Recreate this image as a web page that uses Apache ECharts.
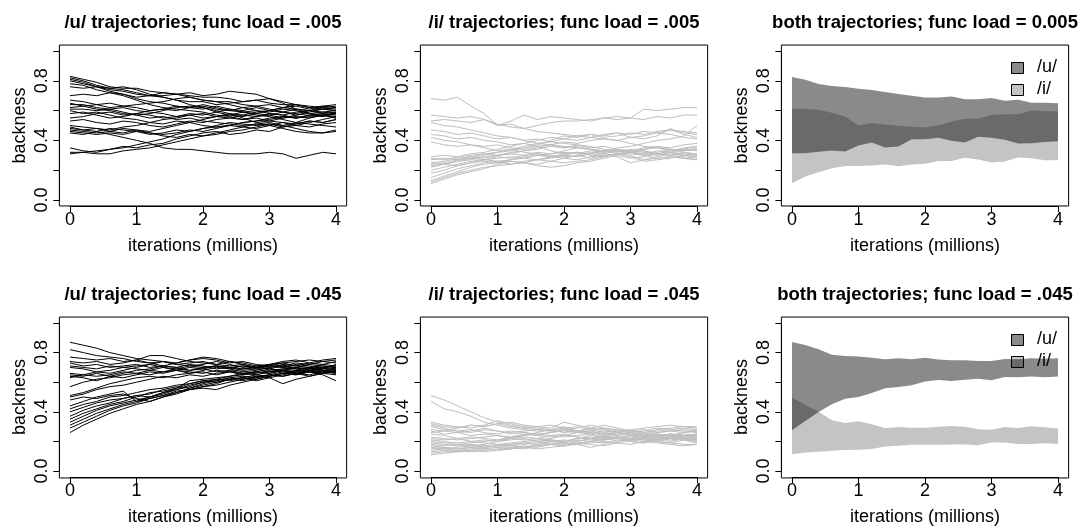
<!DOCTYPE html>
<html>
<head>
<meta charset="utf-8">
<title>backness trajectories</title>
<script src="https://cdn.jsdelivr.net/npm/echarts@6/dist/echarts.min.js"></script>
<style>
  html, body { margin: 0; padding: 0; background: #fff; }
  #chart { width: 1078px; height: 527px; }
</style>
</head>
<body>
<div id="chart"></div>
<script>
// iteration checkpoints (millions)
const iters = [0, 0.2, 0.4, 0.6, 0.8, 1.0, 1.2, 1.4, 1.6, 1.8, 2.0, 2.2, 2.4, 2.6, 2.8, 3.0, 3.2, 3.4, 3.6, 3.8, 4.0];
const xTicks = [0, 1, 2, 3, 4];
const yLabelled = [0, 0.4, 0.8];

const panelTitles = [
  '/u/ trajectories; func load = .005',
  '/i/ trajectories; func load = .005',
  'both trajectories; func load = 0.005',
  '/u/ trajectories; func load = .045',
  '/i/ trajectories; func load = .045',
  'both trajectories; func load = .045'
];
const legendLabels = ['/u/', '/i/'];

// /u/ runs, functional load .005
const u005 = [
  [0.83,0.81,0.79,0.76,0.75,0.75,0.73,0.72,0.71,0.70,0.69,0.69,0.68,0.66,0.67,0.65,0.64,0.64,0.62,0.63,0.62],
  [0.82,0.80,0.77,0.75,0.74,0.72,0.70,0.70,0.71,0.69,0.67,0.66,0.66,0.64,0.63,0.64,0.62,0.61,0.60,0.61,0.60],
  [0.81,0.79,0.76,0.73,0.71,0.68,0.66,0.65,0.63,0.62,0.63,0.61,0.60,0.62,0.60,0.59,0.61,0.60,0.58,0.59,0.58],
  [0.80,0.78,0.76,0.75,0.76,0.74,0.71,0.69,0.67,0.64,0.62,0.59,0.57,0.56,0.58,0.57,0.55,0.56,0.55,0.57,0.56],
  [0.78,0.77,0.74,0.72,0.70,0.67,0.64,0.62,0.61,0.60,0.59,0.57,0.56,0.54,0.55,0.53,0.52,0.50,0.49,0.51,0.52],
  [0.76,0.75,0.76,0.74,0.73,0.71,0.70,0.72,0.71,0.72,0.70,0.71,0.73,0.72,0.71,0.68,0.65,0.61,0.58,0.57,0.55],
  [0.70,0.71,0.70,0.72,0.71,0.69,0.70,0.69,0.67,0.66,0.66,0.64,0.65,0.66,0.67,0.68,0.66,0.64,0.63,0.62,0.63],
  [0.67,0.66,0.64,0.65,0.63,0.62,0.60,0.61,0.63,0.62,0.64,0.62,0.60,0.59,0.60,0.58,0.57,0.59,0.60,0.58,0.57],
  [0.65,0.63,0.64,0.62,0.63,0.64,0.65,0.66,0.68,0.69,0.67,0.66,0.64,0.62,0.63,0.61,0.59,0.57,0.58,0.56,0.59],
  [0.64,0.64,0.62,0.61,0.62,0.60,0.59,0.58,0.56,0.57,0.55,0.56,0.58,0.57,0.59,0.60,0.62,0.63,0.61,0.63,0.64],
  [0.62,0.63,0.61,0.60,0.58,0.57,0.55,0.56,0.54,0.55,0.53,0.52,0.51,0.50,0.51,0.52,0.50,0.48,0.46,0.45,0.46],
  [0.61,0.61,0.60,0.61,0.59,0.57,0.58,0.60,0.62,0.63,0.62,0.60,0.58,0.55,0.52,0.53,0.55,0.57,0.59,0.61,0.62],
  [0.60,0.58,0.59,0.57,0.55,0.54,0.52,0.51,0.53,0.52,0.50,0.49,0.50,0.52,0.53,0.55,0.56,0.55,0.57,0.56,0.58],
  [0.58,0.59,0.57,0.55,0.56,0.58,0.57,0.55,0.56,0.58,0.57,0.59,0.61,0.60,0.62,0.60,0.62,0.64,0.62,0.61,0.60],
  [0.55,0.56,0.58,0.59,0.57,0.58,0.60,0.61,0.60,0.62,0.61,0.63,0.61,0.59,0.57,0.56,0.54,0.52,0.51,0.50,0.49],
  [0.53,0.54,0.52,0.51,0.53,0.52,0.50,0.49,0.51,0.53,0.52,0.54,0.55,0.57,0.56,0.58,0.57,0.55,0.56,0.57,0.55],
  [0.50,0.49,0.48,0.47,0.49,0.50,0.52,0.54,0.55,0.57,0.58,0.56,0.57,0.59,0.58,0.60,0.59,0.61,0.60,0.62,0.61],
  [0.49,0.47,0.48,0.46,0.45,0.47,0.46,0.48,0.50,0.52,0.54,0.56,0.55,0.54,0.56,0.57,0.59,0.58,0.60,0.59,0.60],
  [0.47,0.46,0.45,0.46,0.48,0.47,0.45,0.44,0.45,0.47,0.46,0.48,0.50,0.49,0.51,0.50,0.48,0.46,0.45,0.45,0.47],
  [0.46,0.45,0.44,0.45,0.44,0.46,0.45,0.43,0.42,0.44,0.43,0.45,0.47,0.49,0.48,0.50,0.52,0.51,0.53,0.52,0.54],
  [0.45,0.44,0.46,0.48,0.47,0.46,0.44,0.45,0.47,0.46,0.48,0.50,0.52,0.51,0.50,0.51,0.49,0.50,0.52,0.54,0.56],
  [0.35,0.33,0.32,0.34,0.36,0.35,0.37,0.38,0.41,0.43,0.45,0.46,0.44,0.45,0.47,0.46,0.49,0.51,0.53,0.52,0.54],
  [0.32,0.32,0.31,0.31,0.33,0.34,0.35,0.37,0.39,0.41,0.43,0.44,0.46,0.47,0.49,0.51,0.50,0.52,0.55,0.57,0.58],
  [0.31,0.32,0.33,0.34,0.35,0.37,0.39,0.41,0.44,0.46,0.48,0.49,0.50,0.52,0.53,0.54,0.56,0.55,0.57,0.58,0.59],
  [0.48,0.47,0.46,0.44,0.42,0.40,0.38,0.35,0.34,0.34,0.33,0.32,0.31,0.31,0.31,0.32,0.31,0.28,0.30,0.32,0.31]
];

// /i/ runs, functional load .005
const i005 = [
  [0.68,0.67,0.69,0.63,0.58,0.50,0.51,0.48,0.46,0.45,0.44,0.43,0.42,0.44,0.45,0.44,0.46,0.45,0.47,0.46,0.45],
  [0.57,0.56,0.55,0.56,0.54,0.50,0.53,0.57,0.54,0.56,0.55,0.54,0.53,0.55,0.56,0.55,0.61,0.60,0.61,0.62,0.62],
  [0.53,0.54,0.53,0.52,0.54,0.51,0.49,0.48,0.50,0.52,0.53,0.53,0.54,0.55,0.54,0.55,0.54,0.56,0.55,0.57,0.57],
  [0.52,0.50,0.49,0.47,0.45,0.43,0.42,0.40,0.38,0.37,0.36,0.35,0.34,0.33,0.34,0.32,0.33,0.31,0.32,0.30,0.31],
  [0.47,0.46,0.44,0.45,0.43,0.41,0.42,0.40,0.41,0.39,0.38,0.37,0.35,0.36,0.34,0.33,0.34,0.35,0.33,0.34,0.33],
  [0.44,0.43,0.41,0.42,0.40,0.39,0.37,0.38,0.36,0.37,0.35,0.36,0.34,0.33,0.35,0.36,0.38,0.40,0.41,0.43,0.50],
  [0.42,0.40,0.39,0.37,0.36,0.37,0.35,0.34,0.36,0.33,0.31,0.32,0.30,0.29,0.31,0.30,0.27,0.28,0.29,0.28,0.27],
  [0.39,0.37,0.36,0.37,0.35,0.33,0.34,0.32,0.31,0.30,0.29,0.30,0.28,0.30,0.31,0.32,0.31,0.30,0.32,0.31,0.30],
  [0.29,0.30,0.29,0.31,0.32,0.34,0.36,0.38,0.40,0.42,0.41,0.43,0.44,0.42,0.43,0.45,0.44,0.46,0.47,0.45,0.44],
  [0.28,0.27,0.29,0.30,0.31,0.30,0.32,0.33,0.35,0.37,0.39,0.38,0.40,0.41,0.40,0.42,0.41,0.43,0.48,0.44,0.42],
  [0.27,0.28,0.27,0.29,0.28,0.30,0.31,0.30,0.32,0.31,0.33,0.35,0.34,0.32,0.33,0.31,0.30,0.32,0.34,0.33,0.35],
  [0.25,0.26,0.28,0.29,0.31,0.32,0.34,0.36,0.38,0.39,0.41,0.40,0.42,0.41,0.40,0.38,0.36,0.35,0.34,0.33,0.34],
  [0.24,0.25,0.27,0.28,0.27,0.29,0.28,0.30,0.31,0.29,0.30,0.32,0.31,0.33,0.32,0.34,0.33,0.31,0.30,0.32,0.31],
  [0.23,0.24,0.23,0.25,0.26,0.25,0.27,0.28,0.27,0.29,0.28,0.27,0.29,0.30,0.29,0.25,0.27,0.29,0.31,0.30,0.29],
  [0.22,0.24,0.26,0.27,0.29,0.30,0.31,0.33,0.34,0.36,0.35,0.37,0.36,0.34,0.33,0.32,0.31,0.33,0.32,0.34,0.36],
  [0.20,0.22,0.24,0.26,0.27,0.26,0.24,0.25,0.23,0.22,0.23,0.25,0.26,0.28,0.30,0.32,0.34,0.36,0.35,0.37,0.38],
  [0.18,0.20,0.23,0.25,0.27,0.28,0.29,0.28,0.30,0.31,0.32,0.31,0.33,0.32,0.34,0.33,0.35,0.36,0.34,0.32,0.30],
  [0.15,0.18,0.21,0.23,0.25,0.26,0.27,0.29,0.30,0.29,0.31,0.32,0.30,0.31,0.33,0.32,0.30,0.28,0.29,0.28,0.27],
  [0.13,0.16,0.19,0.22,0.24,0.25,0.26,0.25,0.27,0.28,0.30,0.29,0.31,0.33,0.31,0.29,0.26,0.27,0.28,0.30,0.29],
  [0.12,0.15,0.18,0.20,0.22,0.23,0.24,0.26,0.27,0.26,0.25,0.26,0.27,0.29,0.31,0.33,0.32,0.31,0.33,0.35,0.36],
  [0.11,0.14,0.17,0.19,0.21,0.24,0.26,0.25,0.24,0.26,0.28,0.30,0.32,0.31,0.30,0.28,0.29,0.31,0.30,0.29,0.28],
  [0.25,0.24,0.26,0.28,0.30,0.32,0.33,0.35,0.37,0.40,0.43,0.42,0.44,0.43,0.45,0.42,0.43,0.45,0.44,0.42,0.41]
];

// /u/ runs, functional load .045
const u045 = [
  [0.87,0.85,0.83,0.80,0.78,0.76,0.75,0.74,0.72,0.71,0.70,0.71,0.70,0.69,0.70,0.71,0.70,0.69,0.70,0.71,0.70],
  [0.82,0.80,0.78,0.77,0.76,0.74,0.73,0.71,0.70,0.68,0.69,0.67,0.68,0.66,0.67,0.69,0.68,0.67,0.69,0.68,0.67],
  [0.77,0.76,0.75,0.76,0.74,0.75,0.73,0.74,0.72,0.73,0.74,0.72,0.71,0.72,0.70,0.72,0.71,0.73,0.72,0.74,0.73],
  [0.74,0.73,0.74,0.72,0.73,0.75,0.78,0.78,0.76,0.74,0.73,0.72,0.74,0.73,0.71,0.70,0.72,0.71,0.73,0.75,0.76],
  [0.73,0.71,0.72,0.70,0.71,0.72,0.70,0.71,0.73,0.75,0.77,0.76,0.74,0.72,0.70,0.69,0.71,0.70,0.68,0.67,0.69],
  [0.71,0.70,0.69,0.71,0.70,0.69,0.68,0.70,0.69,0.71,0.72,0.74,0.72,0.70,0.71,0.72,0.74,0.75,0.73,0.72,0.74],
  [0.70,0.69,0.67,0.68,0.70,0.71,0.72,0.70,0.68,0.66,0.67,0.65,0.67,0.66,0.65,0.67,0.69,0.70,0.72,0.71,0.70],
  [0.65,0.64,0.66,0.64,0.63,0.65,0.67,0.66,0.68,0.70,0.69,0.71,0.69,0.67,0.68,0.70,0.71,0.69,0.67,0.65,0.61],
  [0.64,0.63,0.61,0.64,0.66,0.68,0.69,0.71,0.70,0.72,0.71,0.69,0.70,0.71,0.69,0.67,0.68,0.70,0.69,0.70,0.71],
  [0.63,0.65,0.64,0.65,0.67,0.66,0.68,0.67,0.69,0.68,0.70,0.71,0.70,0.68,0.69,0.71,0.70,0.72,0.71,0.69,0.68],
  [0.57,0.60,0.62,0.63,0.65,0.66,0.65,0.67,0.68,0.67,0.66,0.68,0.67,0.69,0.70,0.69,0.67,0.66,0.68,0.67,0.66],
  [0.51,0.53,0.56,0.59,0.61,0.63,0.64,0.63,0.65,0.66,0.68,0.70,0.69,0.71,0.70,0.72,0.73,0.71,0.70,0.72,0.71],
  [0.50,0.52,0.55,0.57,0.58,0.60,0.62,0.64,0.63,0.65,0.64,0.66,0.67,0.65,0.66,0.68,0.69,0.68,0.70,0.69,0.72],
  [0.44,0.47,0.50,0.52,0.54,0.47,0.50,0.53,0.56,0.61,0.62,0.63,0.64,0.66,0.67,0.66,0.68,0.67,0.69,0.70,0.69],
  [0.42,0.45,0.47,0.50,0.51,0.53,0.55,0.56,0.58,0.59,0.61,0.60,0.62,0.63,0.65,0.64,0.66,0.68,0.67,0.66,0.68],
  [0.40,0.43,0.46,0.48,0.49,0.51,0.50,0.53,0.55,0.58,0.60,0.62,0.61,0.63,0.62,0.64,0.66,0.65,0.67,0.68,0.67],
  [0.37,0.41,0.44,0.46,0.49,0.51,0.52,0.55,0.57,0.56,0.59,0.61,0.63,0.62,0.64,0.63,0.59,0.62,0.64,0.66,0.65],
  [0.35,0.39,0.42,0.45,0.47,0.50,0.53,0.54,0.56,0.59,0.61,0.62,0.64,0.65,0.67,0.66,0.68,0.66,0.65,0.67,0.69],
  [0.33,0.37,0.41,0.44,0.46,0.48,0.50,0.52,0.55,0.57,0.60,0.61,0.63,0.64,0.63,0.65,0.64,0.66,0.68,0.69,0.70],
  [0.31,0.35,0.39,0.42,0.45,0.47,0.49,0.51,0.54,0.55,0.57,0.59,0.62,0.63,0.61,0.63,0.65,0.67,0.69,0.68,0.66],
  [0.29,0.33,0.37,0.41,0.44,0.46,0.49,0.51,0.53,0.56,0.58,0.60,0.62,0.61,0.63,0.65,0.67,0.66,0.64,0.66,0.67],
  [0.26,0.31,0.35,0.39,0.42,0.45,0.47,0.50,0.52,0.55,0.57,0.58,0.60,0.62,0.64,0.65,0.64,0.66,0.67,0.66,0.68],
  [0.48,0.50,0.49,0.51,0.52,0.49,0.47,0.50,0.53,0.55,0.56,0.55,0.58,0.60,0.62,0.64,0.66,0.65,0.67,0.66,0.67],
  [0.66,0.65,0.67,0.66,0.68,0.70,0.72,0.74,0.73,0.75,0.76,0.75,0.73,0.74,0.72,0.71,0.73,0.74,0.75,0.74,0.75]
];

// /i/ runs, functional load .045
const i045 = [
  [0.51,0.48,0.44,0.40,0.36,0.33,0.31,0.29,0.28,0.27,0.28,0.26,0.27,0.25,0.26,0.24,0.25,0.23,0.24,0.25,0.24],
  [0.47,0.42,0.40,0.37,0.33,0.31,0.29,0.28,0.27,0.28,0.26,0.27,0.26,0.24,0.25,0.26,0.24,0.25,0.23,0.24,0.25],
  [0.33,0.31,0.30,0.29,0.31,0.34,0.32,0.30,0.29,0.28,0.29,0.27,0.28,0.29,0.27,0.26,0.27,0.29,0.28,0.27,0.26],
  [0.32,0.30,0.29,0.31,0.30,0.32,0.30,0.29,0.30,0.31,0.29,0.30,0.28,0.26,0.27,0.28,0.29,0.30,0.31,0.30,0.29],
  [0.31,0.29,0.27,0.26,0.28,0.27,0.26,0.27,0.28,0.27,0.28,0.29,0.31,0.29,0.28,0.27,0.26,0.28,0.29,0.30,0.30],
  [0.30,0.28,0.27,0.28,0.26,0.25,0.27,0.26,0.25,0.26,0.27,0.26,0.25,0.27,0.26,0.25,0.24,0.26,0.27,0.26,0.27],
  [0.28,0.27,0.26,0.24,0.25,0.24,0.23,0.24,0.25,0.24,0.23,0.24,0.25,0.23,0.24,0.23,0.22,0.24,0.25,0.24,0.23],
  [0.27,0.25,0.26,0.27,0.29,0.27,0.25,0.26,0.24,0.23,0.24,0.26,0.27,0.28,0.26,0.24,0.23,0.21,0.22,0.23,0.22],
  [0.25,0.24,0.22,0.23,0.22,0.21,0.22,0.23,0.22,0.24,0.25,0.23,0.22,0.24,0.26,0.25,0.24,0.22,0.23,0.22,0.21],
  [0.23,0.22,0.21,0.22,0.23,0.24,0.22,0.21,0.22,0.21,0.20,0.22,0.24,0.23,0.22,0.21,0.23,0.25,0.24,0.23,0.24],
  [0.22,0.21,0.22,0.20,0.21,0.20,0.21,0.22,0.20,0.21,0.19,0.18,0.16,0.18,0.20,0.22,0.21,0.20,0.19,0.18,0.18],
  [0.21,0.20,0.19,0.20,0.19,0.18,0.19,0.20,0.21,0.22,0.24,0.23,0.21,0.22,0.23,0.21,0.20,0.22,0.21,0.22,0.20],
  [0.20,0.19,0.18,0.19,0.20,0.21,0.23,0.25,0.24,0.26,0.28,0.27,0.29,0.31,0.29,0.27,0.26,0.24,0.25,0.23,0.24],
  [0.19,0.18,0.17,0.18,0.17,0.18,0.17,0.18,0.19,0.20,0.19,0.21,0.20,0.19,0.21,0.20,0.19,0.21,0.22,0.21,0.19],
  [0.18,0.17,0.18,0.17,0.16,0.17,0.18,0.19,0.18,0.20,0.21,0.20,0.22,0.23,0.22,0.24,0.23,0.25,0.24,0.26,0.27],
  [0.17,0.16,0.15,0.16,0.17,0.16,0.17,0.16,0.18,0.19,0.18,0.20,0.22,0.21,0.23,0.22,0.24,0.23,0.25,0.24,0.25],
  [0.16,0.15,0.16,0.17,0.18,0.20,0.22,0.24,0.26,0.28,0.30,0.27,0.26,0.25,0.24,0.26,0.25,0.27,0.28,0.29,0.28],
  [0.15,0.16,0.15,0.16,0.15,0.16,0.15,0.16,0.17,0.18,0.17,0.19,0.20,0.22,0.23,0.22,0.21,0.23,0.22,0.21,0.22],
  [0.14,0.15,0.14,0.15,0.16,0.17,0.18,0.19,0.20,0.21,0.20,0.22,0.23,0.21,0.22,0.24,0.23,0.21,0.20,0.22,0.23],
  [0.13,0.14,0.13,0.14,0.15,0.14,0.15,0.16,0.15,0.16,0.17,0.18,0.19,0.20,0.19,0.21,0.22,0.20,0.19,0.21,0.20],
  [0.12,0.13,0.14,0.13,0.14,0.15,0.16,0.15,0.17,0.18,0.19,0.18,0.20,0.21,0.22,0.20,0.19,0.21,0.23,0.22,0.21],
  [0.11,0.12,0.13,0.14,0.13,0.14,0.15,0.17,0.16,0.18,0.17,0.19,0.18,0.17,0.19,0.18,0.20,0.19,0.18,0.17,0.18],
  [0.26,0.27,0.29,0.31,0.30,0.32,0.33,0.31,0.30,0.29,0.33,0.31,0.29,0.28,0.26,0.27,0.28,0.26,0.27,0.28,0.27]
];

// envelope bands, functional load .005
const bandU005Hi = [0.825,0.807,0.778,0.765,0.758,0.747,0.738,0.724,0.711,0.700,0.688,0.688,0.695,0.677,0.677,0.684,0.666,0.673,0.652,0.652,0.650];
const bandU005Lo = [0.314,0.314,0.323,0.332,0.325,0.365,0.386,0.352,0.359,0.408,0.408,0.417,0.397,0.386,0.424,0.417,0.404,0.379,0.381,0.390,0.395];
const bandI005Hi = [0.614,0.610,0.605,0.585,0.561,0.500,0.516,0.507,0.498,0.491,0.487,0.502,0.527,0.545,0.545,0.570,0.576,0.576,0.601,0.596,0.596];
const bandI005Lo = [0.112,0.157,0.186,0.213,0.229,0.229,0.231,0.238,0.226,0.238,0.244,0.262,0.262,0.283,0.271,0.251,0.258,0.285,0.280,0.267,0.267];

// envelope bands, functional load .045
const bandU045Hi = [0.872,0.852,0.823,0.786,0.777,0.773,0.766,0.755,0.762,0.755,0.766,0.753,0.748,0.748,0.744,0.744,0.757,0.755,0.762,0.759,0.762];
const bandU045Lo = [0.275,0.338,0.399,0.451,0.489,0.500,0.527,0.559,0.568,0.579,0.604,0.615,0.608,0.617,0.624,0.613,0.635,0.633,0.638,0.633,0.638];
const bandI045Hi = [0.496,0.446,0.401,0.343,0.325,0.336,0.316,0.291,0.297,0.293,0.293,0.300,0.304,0.300,0.282,0.279,0.297,0.291,0.302,0.295,0.288];
const bandI045Lo = [0.113,0.126,0.131,0.137,0.142,0.144,0.149,0.165,0.171,0.178,0.178,0.178,0.180,0.180,0.174,0.192,0.192,0.183,0.183,0.187,0.183];

// ---- layout ----
const FONT = '"Liberation Sans", Arial, Helvetica, sans-serif';
const colX = [70, 431, 792];     // pixel x of iteration 0 in each column
const rowY = [51, 323];          // pixel y of backness 1.0 in each row
const dataW = 266, dataH = 149;
const padX = dataW * 0.04, padY = dataH * 0.04;   // frame sits 4% outside the data range
const U_COLOR = '#000000';
const I_COLOR = '#bebebe';
const U_FILL = 'rgba(0,0,0,0.46)';
const I_FILL = 'rgba(0,0,0,0.23)';

const chart = echarts.init(document.getElementById('chart'), null, { renderer: 'canvas' });

const grids = [], xAxes = [], yAxes = [], titles = [], series = [], graphics = [];

for (let p = 0; p < 6; p++) {
  const c = p % 3, r = Math.floor(p / 3);
  const left = colX[c], top = rowY[r];
  grids.push({ left: left, top: top, width: dataW, height: dataH, containLabel: false });
  xAxes.push({
    gridIndex: p, type: 'value', min: 0, max: 4, interval: 1,
    offset: padY,
    axisLine: { show: true, onZero: false, lineStyle: { color: '#000', width: 1 } },
    axisTick: { show: true, length: 6, lineStyle: { color: '#000', width: 1 } },
    axisLabel: { fontSize: 18, fontFamily: FONT, color: '#000', margin: 5 },
    splitLine: { show: false },
    name: 'iterations (millions)', nameLocation: 'middle', nameGap: 31,
    nameTextStyle: { fontSize: 18, fontFamily: FONT, color: '#000' }
  });
  yAxes.push({
    gridIndex: p, type: 'value', min: 0, max: 1, interval: 0.2,
    offset: padX,
    axisLine: { show: true, onZero: false, lineStyle: { color: '#000', width: 1 } },
    axisTick: { show: true, length: 6, lineStyle: { color: '#000', width: 1 } },
    axisLabel: {
      fontSize: 18, fontFamily: FONT, color: '#000', rotate: 90, margin: 8,
      formatter: v => yLabelled.some(t => Math.abs(v - t) < 1e-9) ? v.toFixed(1) : ''
    },
    splitLine: { show: false },
    name: 'backness', nameLocation: 'middle', nameGap: 30,
    nameTextStyle: { fontSize: 18, fontFamily: FONT, color: '#000' }
  });
  titles.push({
    text: panelTitles[p],
    left: left + dataW / 2, top: top - 38, textAlign: 'center', padding: 0,
    textStyle: { fontSize: 18.5, fontWeight: 'bold', fontFamily: FONT, color: '#000' }
  });
}

// frame boxes (one bordered grid per panel, with hidden axes)
for (let p = 0; p < 6; p++) {
  const c = p % 3, r = Math.floor(p / 3);
  grids.push({
    left: colX[c] - padX, top: rowY[r] - padY,
    width: dataW + 2 * padX, height: dataH + 2 * padY,
    show: true, borderColor: '#000', borderWidth: 1, backgroundColor: 'transparent'
  });
  xAxes.push({ gridIndex: 6 + p, type: 'value', min: 0, max: 1, show: false });
  yAxes.push({ gridIndex: 6 + p, type: 'value', min: 0, max: 1, show: false });
}

function addRuns(runs, color, panel) {
  runs.forEach((run, k) => {
    series.push({
      name: 'run' + panel + '_' + k,
      type: 'line', xAxisIndex: panel, yAxisIndex: panel,
      data: iters.map((x, j) => [x, run[j]]),
      symbol: 'none', silent: true, animation: false,
      lineStyle: { color: color, width: 1 }, z: 3
    });
  });
}

function addBand(lo, hi, fill, panel, name) {
  series.push({
    name: name,
    type: 'custom', xAxisIndex: panel, yAxisIndex: panel,
    coordinateSystem: 'cartesian2d',
    data: [[0, 0]], silent: true, animation: false, z: 2,
    renderItem: (params, api) => {
      const pts = [];
      for (let j = 0; j < iters.length; j++) pts.push(api.coord([iters[j], hi[j]]));
      for (let j = iters.length - 1; j >= 0; j--) pts.push(api.coord([iters[j], lo[j]]));
      return { type: 'polygon', shape: { points: pts }, style: { fill: fill, stroke: null } };
    }
  });
}

addRuns(u005, U_COLOR, 0);
addRuns(i005, I_COLOR, 1);
addBand(bandU005Lo, bandU005Hi, U_FILL, 2, '/u/');
addBand(bandI005Lo, bandI005Hi, I_FILL, 2, '/i/');
addRuns(u045, U_COLOR, 3);
addRuns(i045, I_COLOR, 4);
addBand(bandU045Lo, bandU045Hi, U_FILL, 5, '/u/');
addBand(bandI045Lo, bandI045Hi, I_FILL, 5, '/i/');

// legend keys in the two band panels
const legendFills = [U_FILL, I_FILL];
[0, 1].forEach(r => {
  legendLabels.forEach((lab, k) => {
    const cy = rowY[r] + 16.5 + k * 21.5;
    graphics.push({
      type: 'rect', z: 10, silent: true,
      shape: { x: 1011.5, y: Math.round(cy - 5.5) + 0.5, width: 12, height: 11 },
      style: { fill: legendFills[k], stroke: '#000', lineWidth: 1 }
    });
    graphics.push({
      type: 'text', z: 10, silent: true, x: 1037, y: cy,
      style: { text: lab, fontSize: 18, fontFamily: FONT, fill: '#000', verticalAlign: 'middle', align: 'left' }
    });
  });
});

chart.setOption({
  animation: false,
  backgroundColor: '#ffffff',
  title: titles,
  grid: grids,
  xAxis: xAxes,
  yAxis: yAxes,
  series: series,
  graphic: graphics
});
</script>
</body>
</html>
